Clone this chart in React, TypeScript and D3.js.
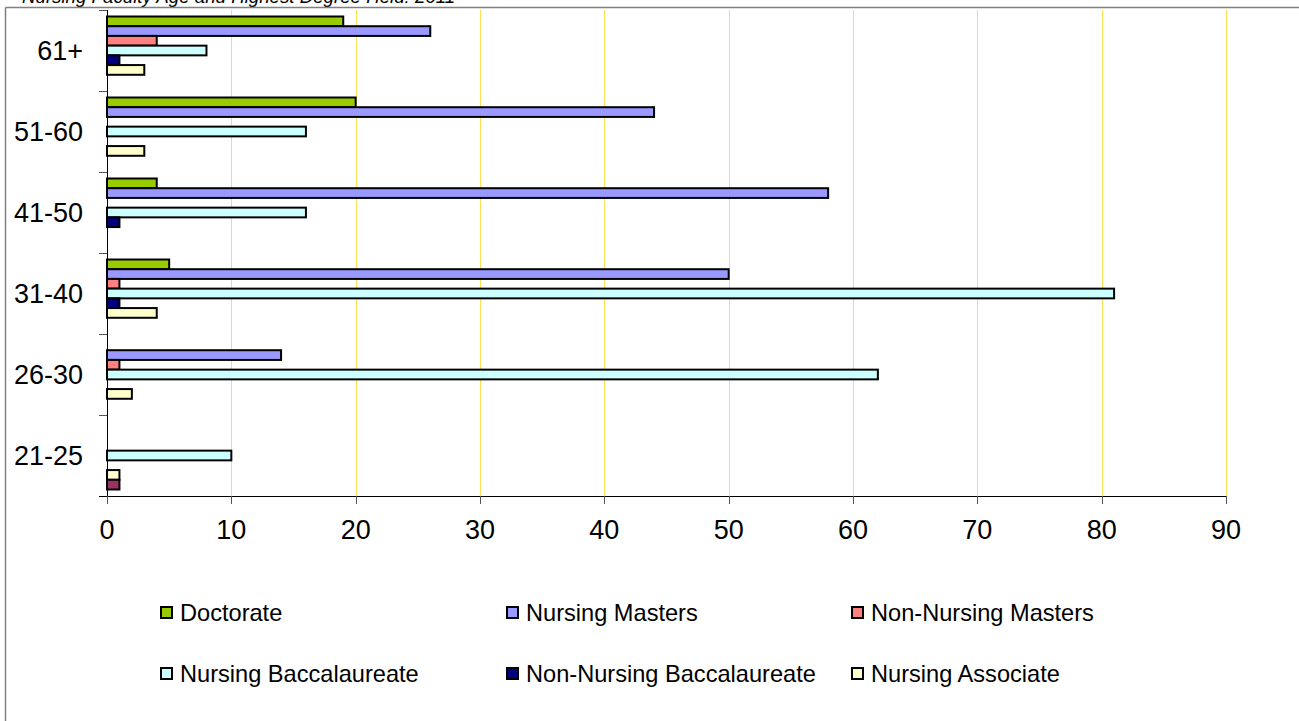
import React from "react";
import * as d3 from "d3";

const categories = ["61+", "51-60", "41-50", "31-40", "26-30", "21-25"];
const seriesNames = [
  "Doctorate",
  "Nursing Masters",
  "Non-Nursing Masters",
  "Nursing Baccalaureate",
  "Non-Nursing Baccalaureate",
  "Nursing Associate",
  "Other",
];
const doctorate = [19, 20, 4, 5, 0, 0];
const nursingMasters = [26, 44, 58, 50, 14, 0];
const nonNursingMasters = [4, 0, 0, 1, 1, 0];
const nursingBacc = [8, 16, 16, 81, 62, 10];
const nonNursingBacc = [1, 0, 1, 1, 0, 0];
const nursingAssociate = [3, 3, 0, 4, 2, 1];
const other = [0, 0, 0, 0, 0, 1];
const seriesColors = ["#99CC00", "#9999FF", "#FF8080", "#CCFFFF", "#000080", "#FFFFCC", "#993366"];
const legendSeries = [0, 1, 2, 3, 4, 5];
const xTicks = [0, 10, 20, 30, 40, 50, 60, 70, 80, 90];
const title = "Nursing Faculty Age and Highest Degree Held: 2011";

const allSeries = [doctorate, nursingMasters, nonNursingMasters, nursingBacc, nonNursingBacc, nursingAssociate, other];

const FONT = "Arial, 'Liberation Sans', sans-serif";

export default function App() {
  const W = 1299;
  const H = 721;
  const left = 107;
  const right = 1226;
  const top = 10;
  const bottom = 496;

  const x = d3.scaleLinear().domain([0, 90]).range([left, right]);
  const y = d3.scaleBand<string>().domain(categories).range([top, bottom]).padding(0);
  const bw = y.bandwidth();
  const gap = 6.5;
  const ys = d3
    .scaleBand<string>()
    .domain(seriesNames)
    .range([gap, bw - gap])
    .padding(0);

  const legendCols = [160, 506, 851];
  const legendRows = [613, 674];

  return (
    <svg
      width={W}
      height={H}
      style={{ position: "absolute", left: 0, top: 0, background: "#fff" }}
      fontFamily={FONT}
    >
      <rect x={0} y={0} width={W} height={H} fill="#fff" />
      {/* title */}
      <text x={22} y={3} fontSize={18.7} fontStyle="italic" fill="#000">
        {title}
      </text>
      {/* outer frame */}
      <line x1={5.5} y1={7.5} x2={W + 5} y2={7.5} stroke="#808080" strokeWidth={1.5} />
      <line x1={5.5} y1={7.5} x2={5.5} y2={H + 5} stroke="#808080" strokeWidth={1.5} />

      {/* gridlines */}
      {xTicks.slice(1).map((t) => (
        <line
          key={"g" + t}
          x1={Math.round(x(t)) + 0.5}
          x2={Math.round(x(t)) + 0.5}
          y1={top}
          y2={bottom}
          stroke="#FFDD55"
          strokeWidth={1}
        />
      ))}

      {/* bars */}
      {categories.map((c, ci) => (
        <g key={c} transform={`translate(0,${y(c)})`}>
          {allSeries.map((s, si) =>
            s[ci] > 0 ? (
              <rect
                key={si}
                x={x(0)}
                y={ys(seriesNames[si])}
                width={x(s[ci]) - x(0)}
                height={ys.bandwidth()}
                fill={seriesColors[si]}
                stroke="#000"
                strokeWidth={2}
              />
            ) : null
          )}
        </g>
      ))}

      {/* y axis */}
      <line x1={left + 0.5} x2={left + 0.5} y1={top} y2={bottom} stroke="#000" strokeWidth={1} />
      {[...categories.map((c) => y(c) as number), bottom].map((v, i) => (
        <line key={"yt" + i} x1={99} x2={left} y1={Math.round(v) + 0.5} y2={Math.round(v) + 0.5} stroke="#555" strokeWidth={1} />
      ))}
      {categories.map((c) => (
        <text
          key={"yl" + c}
          x={83}
          y={(y(c) as number) + bw / 2}
          textAnchor="end"
          dominantBaseline="central"
          fontSize={27}
          fill="#000"
        >
          {c}
        </text>
      ))}

      {/* x axis */}
      <line x1={99} x2={right} y1={bottom + 0.5} y2={bottom + 0.5} stroke="#000" strokeWidth={1} />
      {xTicks.map((t) => (
        <g key={"xt" + t}>
          <line
            x1={Math.round(x(t)) + 0.5}
            x2={Math.round(x(t)) + 0.5}
            y1={bottom}
            y2={bottom + 8}
            stroke="#555"
            strokeWidth={1}
          />
          <text x={x(t)} y={539} textAnchor="middle" fontSize={27} fill="#000">
            {t}
          </text>
        </g>
      ))}

      {/* legend */}
      {legendSeries.map((si, i) => {
        const col = i % 3;
        const row = Math.floor(i / 3);
        const lx = legendCols[col];
        const ly = legendRows[row];
        return (
          <g key={"lg" + si}>
            <rect x={lx + 1} y={ly - 6} width={11} height={11} fill={seriesColors[si]} stroke="#000" strokeWidth={2} />
            <text x={lx + 20} y={ly + 8} fontSize={23.6} fill="#000">
              {seriesNames[si]}
            </text>
          </g>
        );
      })}
    </svg>
  );
}
